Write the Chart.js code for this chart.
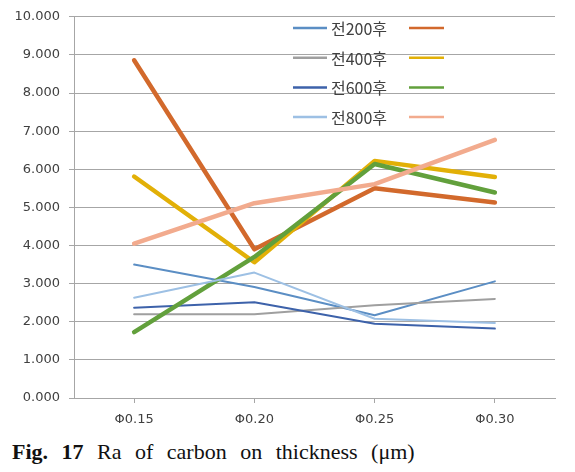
<!DOCTYPE html>
<html>
<head>
<meta charset="utf-8">
<script src="https://cdn.jsdelivr.net/npm/chart.js@4.4.1/dist/chart.umd.min.js"></script>
<style>
  html, body { margin: 0; padding: 0; background: #fff; }
  #wrap { position: relative; width: 575px; height: 472px; }
  #box { position: absolute; left: 0; top: 0; width: 575px; height: 432px; }
  #caption {
    position: absolute; left: 12px; top: 439px;
    font-family: "Liberation Serif", "Times New Roman", serif;
    font-size: 22px; color: #111; word-spacing: 8px; white-space: nowrap;
  }
</style>
</head>
<body>
<div id="wrap">
  <div id="box"><canvas id="chart"></canvas></div>
  <div id="caption"><b>Fig. 17</b> Ra of carbon on thickness (μm)</div>
</div>
<script>
// 두께별 Ra 값 (전 / 후)
const categories = ['Φ0.15', 'Φ0.20', 'Φ0.25', 'Φ0.30'];
const yTicks = [0, 1, 2, 3, 4, 5, 6, 7, 8, 9, 10];

const legendGroups = ['200', '400', '600', '800'];

const before200 = [3.50, 2.91, 2.17, 3.06];
const after200  = [8.86, 3.90, 5.50, 5.13];
const before400 = [2.20, 2.20, 2.43, 2.60];
const after400  = [5.81, 3.56, 6.22, 5.80];
const before600 = [2.37, 2.51, 1.95, 1.82];
const after600  = [1.73, 3.70, 6.14, 5.39];
const before800 = [2.63, 3.29, 2.08, 1.97];
const after800  = [4.05, 5.11, 5.61, 6.77];

const series = [
    { label: '전200', data: before200, color: '#5b8ec4', width: 2 },
    { label: '후200', data: after200,  color: '#d2692c', width: 4.5 },
    { label: '전400', data: before400, color: '#9f9f9f', width: 2 },
    { label: '후400', data: after400,  color: '#e2b007', width: 4.5 },
    { label: '전600', data: before600, color: '#3d62aa', width: 2 },
    { label: '후600', data: after600,  color: '#62a03c', width: 4.5 },
    { label: '전800', data: before800, color: '#9dc0e4', width: 2 },
    { label: '후800', data: after800,  color: '#f2ab8e', width: 4.5 }
];

// Excel식 범례: 선 - "전xxx후" - 선
const pairLegend = {
    id: 'pairLegend',
    afterDraw(chart) {
        const ctx = chart.ctx;
        const ds = chart.data.datasets;
        ctx.save();
        ctx.font = '16px "Noto Sans CJK KR", sans-serif';
        ctx.fillStyle = '#404040';
        ctx.textBaseline = 'middle';
        legendGroups.forEach((g, i) => {
            const y = 28 + i * 29.7;
            const a = ds[i * 2], b = ds[i * 2 + 1];
            ctx.lineWidth = 2.5;
            ctx.strokeStyle = a.borderColor;
            ctx.beginPath(); ctx.moveTo(293, y); ctx.lineTo(327, y); ctx.stroke();
            ctx.fillText('전' + g + '후', 331, y + 1);
            ctx.strokeStyle = b.borderColor;
            ctx.beginPath(); ctx.moveTo(409, y); ctx.lineTo(444, y); ctx.stroke();
        });
        ctx.restore();
    }
};

new Chart(document.getElementById('chart'), {
    type: 'line',
    data: {
        labels: categories,
        datasets: series.map((s, i) => ({
            label: s.label,
            data: s.data,
            borderColor: s.color,
            backgroundColor: s.color,
            borderWidth: s.width,
            borderCapStyle: 'round',
            borderJoinStyle: 'round',
            pointRadius: 0,
            tension: 0,
            order: series.length - i
        }))
    },
    options: {
        responsive: true,
        maintainAspectRatio: false,
        animation: false,
        layout: { padding: { left: 0, right: 20, top: 14, bottom: 0 } },
        scales: {
            x: {
                offset: true,
                grid: { drawOnChartArea: false, color: '#a6a6a6', tickLength: 5 },
                border: { color: '#a6a6a6' },
                ticks: { color: '#404040', font: { family: 'DejaVu Sans', size: 13 }, padding: 9 },
                afterFit(scale) { scale.height = 34; }
            },
            y: {
                min: 0,
                max: 10,
                afterBuildTicks(scale) { scale.ticks = yTicks.map(v => ({ value: v })); },
                grid: { color: '#a6a6a6', tickLength: 5 },
                border: { color: '#a6a6a6' },
                ticks: {
                    color: '#404040',
                    font: { family: 'DejaVu Sans', size: 13 },
                    padding: 9,
                    callback: v => v.toFixed(3)
                },
                afterFit(scale) { scale.width = 74; }
            }
        },
        plugins: {
            legend: { display: false },
            tooltip: { enabled: false }
        }
    },
    plugins: [pairLegend]
});
</script>
</body>
</html>
